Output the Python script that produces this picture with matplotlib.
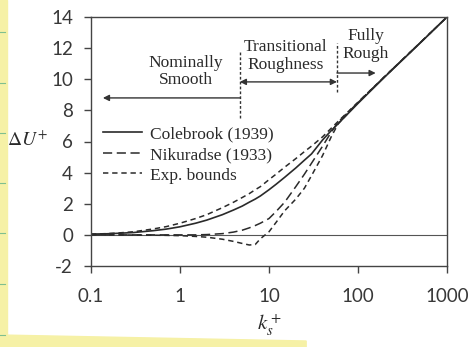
import matplotlib
matplotlib.use('Agg')
import matplotlib.pyplot as plt
from matplotlib.patches import Rectangle, Polygon
from matplotlib.lines import Line2D

plt.rcParams['mathtext.fontset'] = 'stix'
plt.rcParams['axes.unicode_minus'] = False

# roughness Reynolds number k_s+ and roughness function dU+ for each curve
ks = [0.1, 0.15, 0.2, 0.3, 0.5, 0.7, 1, 1.5, 2, 3, 4, 5, 6, 7, 8, 10,
      12, 15, 20, 25, 30, 40, 50, 60, 100, 200, 500, 1000]
colebrook = [0.05, 0.07, 0.1, 0.15, 0.27, 0.37, 0.52, 0.75, 0.95, 1.3, 1.6,
             1.85, 2.1, 2.3, 2.5, 2.9, 3.25, 3.7, 4.3, 4.8, 5.2, 6.1, 6.7,
             7.15, 8.45, 10.15, 12.33, 14.0]
nikuradse = [0.0, 0.0, 0.0, 0.0, 0.0, 0.0, 0.0, 0.0, 0.02, 0.08, 0.18, 0.3,
             0.45, 0.6, 0.75, 1.05, 1.5, 2.1, 3.1, 3.9, 4.6, 5.7, 6.6, 7.25,
             8.5, 10.18, 12.35, 14.0]
upper_bound = [0.05, 0.08, 0.12, 0.2, 0.38, 0.53, 0.75, 1.05, 1.3, 1.75, 2.1,
               2.4, 2.65, 2.9, 3.1, 3.55, 3.9, 4.35, 4.9, 5.35, 5.7, 6.3,
               6.85, 7.3, 8.53, 10.18, 12.35, 14.0]
lower_bound = [0.0, 0.0, 0.0, -0.01, -0.02, -0.03, -0.05, -0.1, -0.15, -0.28,
               -0.42, -0.55, -0.65, -0.62, -0.25, 0.2, 0.8, 1.55, 2.3, 3.0,
               3.8, 5.1, 6.3, 7.15, 8.5, 10.18, 12.35, 14.0]

xticks = [0.1, 1, 10, 100, 1000]
xticklabels = ['0.1', '1', '10', '100', '1000']
yticks = [-2, 0, 2, 4, 6, 8, 10, 12, 14]

ink = '#2a2a2a'
serif = 'Liberation Serif'

fig = plt.figure(figsize=(4.71, 3.47), dpi=100)
ax = fig.add_axes([91 / 471, 1 - 266 / 347, 356 / 471, 249 / 347])

# scanned-page edges
fig.patches.append(Rectangle((0, 0), 7 / 471, 1, transform=fig.transFigure,
                             color='#f6f1a6', zorder=0))
fig.patches.append(Polygon([(0, 0), (0, 12 / 347), (0.65, 6 / 347), (0.65, 0)],
                           closed=True, transform=fig.transFigure,
                           color='#f6f1a6', zorder=0))
for yy in [32, 83, 133, 183, 233, 284, 335]:
    fig.lines.append(Line2D([0, 5 / 471], [1 - yy / 347] * 2,
                            transform=fig.transFigure, color='#7fbf8f', lw=0.8))

ax.axhline(0, color='#555555', lw=0.8)
ax.plot(ks, colebrook, color=ink, lw=1.2, label='Colebrook (1939)')
ax.plot(ks, nikuradse, color=ink, lw=1.1, dashes=(6, 3),
        label='Nikuradse (1933)')
ax.plot(ks, upper_bound, color=ink, lw=1.1, dashes=(3.5, 2.5),
        label='Exp. bounds')
ax.plot(ks, lower_bound, color=ink, lw=1.1, dashes=(3.5, 2.5))

ax.set_xscale('log')
ax.set_xlim(0.1, 1000)
ax.set_ylim(-2, 14)
ax.set_xticks(xticks)
ax.set_xticklabels(xticklabels)
ax.set_yticks(yticks)
ax.minorticks_off()
ax.tick_params(direction='out', length=5, width=1, color='#444444',
               labelsize=13.5, labelcolor='#383838', labelfontfamily='Lato')
ax.tick_params(axis='x', pad=11)
ax.tick_params(axis='y', pad=8)
for s in ax.spines.values():
    s.set_color('#444444')
    s.set_linewidth(1.0)

ax.set_xlabel('$k_s^+$', fontsize=15, color=ink, va='center')
ax.xaxis.set_label_coords(0.503, -0.235)
ax.set_ylabel(r'$\Delta U^{+}$', fontsize=14, color=ink, rotation=0,
              ha='left', va='center')
ax.yaxis.set_label_coords(-0.235, 0.506)

# regime boundaries and arrows
ax.plot([4.7, 4.7], [7.5, 11.8], color='#333333', lw=1.0, dashes=(2, 1.5))
ax.plot([58, 58], [9.2, 12.3], color='#333333', lw=1.0, dashes=(2, 1.5))
arrow = dict(arrowstyle='-|>', lw=1.0, color='#333333', mutation_scale=9,
             shrinkA=0, shrinkB=0)
ax.annotate('', xy=(0.136, 8.8), xytext=(4.7, 8.8), arrowprops=arrow)
ax.annotate('', xy=(158, 10.4), xytext=(58, 10.4), arrowprops=arrow)
ax.annotate('', xy=(58, 9.83), xytext=(4.7, 9.83),
            arrowprops=dict(arrow, arrowstyle='<|-|>'))

txt = dict(fontsize=12.5, family=serif, color=ink, ha='center', va='center',
           linespacing=1.15)
ax.text(1.17, 10.5, 'Nominally\nSmooth', **txt)
ax.text(15.2, 11.5, 'Transitional\nRoughness', **txt)
ax.text(123, 12.2, 'Fully\nRough', **txt)

ax.legend(loc='center left', bbox_to_anchor=(0.035, 0.446), frameon=False,
          borderpad=0, borderaxespad=0, handlelength=2.2, handletextpad=0.5,
          labelspacing=0.25, prop={'family': serif, 'size': 12.5},
          labelcolor=ink)

fig.savefig('out.png', dpi=100, facecolor='white')
